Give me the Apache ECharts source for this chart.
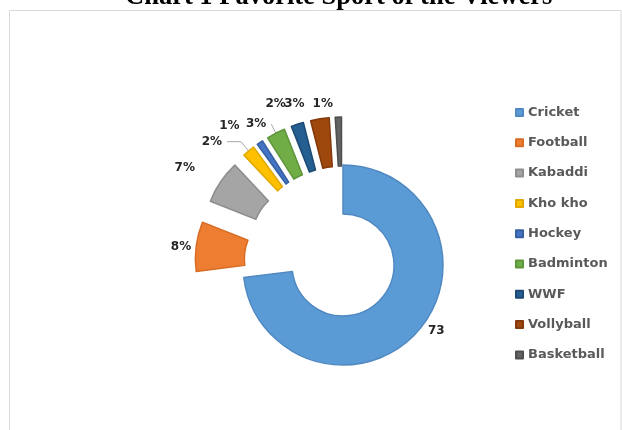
<!DOCTYPE html>
<html>
<head>
<meta charset="utf-8">
<script src="https://cdn.jsdelivr.net/npm/echarts@6/dist/echarts.min.js"></script>
<style>
  html, body { margin: 0; padding: 0; background: #ffffff; }
  #chart { width: 622px; height: 430px; }
</style>
</head>
<body>
<div id="chart"></div>
<script>
// Sports and their share of viewers (percent)
const categories = ['Cricket', 'Football', 'Kabaddi', 'Kho kho', 'Hockey', 'Badminton', 'WWF', 'Vollyball', 'Basketball'];
const shares = [73, 8, 7, 2, 1, 3, 2, 3, 1];

// Fill and outline colours per slice
const fills = ['#5B9BD5', '#ED7D31', '#A5A5A5', '#FFC000', '#4472C4', '#70AD47', '#255E91', '#9E480E', '#636363'];
const edges = ['#5089C2', '#D86C24', '#8E8E8E', '#E0A800', '#36609F', '#5E953A', '#1C4A74', '#83390A', '#4E4E4E'];

// Leader-line lengths per slice (radial part, horizontal part) used to place labels
const leadRadial = [0, 0, 25, 12, 20, 10, 21, 15, 13];
const leadHorizontal = [5, 0, 0, 14, 4, 0, 0, 8, 0];
const leadVisible = [false, false, false, true, false, true, false, false, false];

const chart = echarts.init(document.getElementById('chart'), null, { renderer: 'canvas' });

const pieData = categories.map((name, i) => {
  const style = { color: fills[i], borderColor: edges[i], borderWidth: 1.5 };
  return {
    name: name,
    value: shares[i],
    selected: i > 0,
    itemStyle: style,
    select: { itemStyle: style },
    labelLine: { show: leadVisible[i], length: leadRadial[i], length2: leadHorizontal[i] }
  };
});

chart.setOption({
  animation: false,
  title: {
    text: 'Chart 1 Favorite Sport of the Viewers',
    left: 120,
    top: -21,
    textStyle: {
      fontFamily: 'Liberation Serif',
      fontWeight: 'bold',
      fontSize: 26.5,
      color: '#000000'
    }
  },
  graphic: [{
    type: 'rect',
    shape: { x: 9.5, y: 10.5, width: 611.5, height: 440 },
    style: { fill: 'none', stroke: '#d9d9d9', lineWidth: 1 },
    silent: true,
    z: -10
  }],
  legend: {
    orient: 'vertical',
    left: 515,
    top: 106,
    padding: 0,
    itemWidth: 7,
    itemHeight: 7,
    itemGap: 17.3,
    icon: 'rect',
    selectedMode: false,
    textStyle: {
      fontFamily: 'DejaVu Sans',
      fontWeight: 'bold',
      fontSize: 13,
      lineHeight: 13,
      color: '#595959'
    },
    data: categories
  },
  series: [{
    type: 'pie',
    center: [343, 265],
    radius: [51, 100],
    startAngle: 90,
    clockwise: true,
    selectedMode: 'multiple',
    selectedOffset: 48,
    avoidLabelOverlap: false,
    minShowLabelAngle: 0,
    labelLayout: { hideOverlap: false },
    emphasis: { disabled: true },
    label: {
      show: true,
      position: 'outside',
      fontFamily: 'DejaVu Sans',
      fontWeight: 'bold',
      fontSize: 12,
      color: '#262626',
      formatter: p => (p.dataIndex === 0 ? String(p.value) : p.value + '%')
    },
    labelLine: {
      lineStyle: { color: '#a6a6a6', width: 1 }
    },
    data: pieData
  }]
});
</script>
</body>
</html>
